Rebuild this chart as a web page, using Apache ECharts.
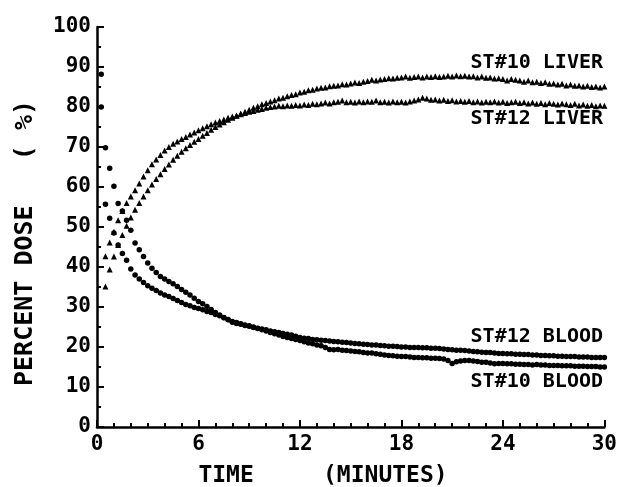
<!DOCTYPE html>
<html lang="en">
<head>
    <meta charset="UTF-8">
    <title>Percent dose vs time</title>
    <style>
        html, body { margin: 0; padding: 0; background: #fff; }
    </style>
</head>
<body>
    <div id="main" style="width: 620px;height:487px;"></div>
    <script src="https://cdn.jsdelivr.net/npm/echarts@6/dist/echarts.min.js"></script>
    <script type="text/javascript">
        var myChart = echarts.init(document.getElementById('main'));

        var SAMPLE_STEP = 0.25; // minutes between samples
        var N_SAMPLE = 120;

        // percent dose, one value per sample (t = 0.25 ... 30 min)
        var liver10 = [
            null, 35.1, 39.4, 42.6, 45.5, 48.0, 50.3, 52.4, 54.3, 56.0, 57.6, 59.2,
            60.6, 62.0, 63.2, 64.5, 65.6, 66.8, 67.8, 68.8, 69.7, 70.5, 71.3, 72.0,
            72.8, 73.5, 74.3, 75.0, 75.6, 76.2, 76.8, 77.3, 77.8, 78.4, 78.8, 79.3,
            79.8, 80.2, 80.7, 81.0, 81.4, 81.7, 82.1, 82.3, 82.7, 83.0, 83.2, 83.6,
            83.8, 84.2, 84.3, 84.6, 84.8, 84.9, 85.2, 85.3, 85.4, 85.7, 85.6, 85.9,
            86.1, 86.0, 86.3, 86.5, 86.8, 86.6, 86.9, 87.0, 87.2, 87.1, 87.3, 87.4,
            87.6, 87.3, 87.5, 87.6, 87.4, 87.6, 87.5, 87.7, 87.5, 87.6, 87.8, 87.6,
            87.9, 87.7, 87.8, 87.6, 87.7, 87.4, 87.6, 87.3, 87.4, 87.1, 87.2, 87.0,
            86.6, 87.0, 86.8, 86.6, 86.3, 86.6, 86.2, 86.3, 86.0, 86.2, 85.8, 85.9,
            85.6, 85.8, 85.4, 85.6, 85.3, 85.4, 85.1, 85.3, 85.0, 85.1, 84.9, 85.1
        ];
        var liver12 = [
            null, 42.7, 46.1, 48.8, 51.7, 54.0, 56.0, 57.6, 59.2, 60.9, 62.6, 64.2,
            65.7, 66.9, 68.0, 69.1, 70.0, 70.8, 71.4, 72.0, 72.5, 73.1, 73.6, 74.2,
            74.7, 75.2, 75.7, 76.1, 76.5, 76.9, 77.3, 77.6, 77.9, 78.2, 78.5, 78.8,
            79.0, 79.3, 79.5, 79.8, 80.0, 80.1, 80.3, 80.2, 80.4, 80.3, 80.5, 80.4,
            80.6, 80.5, 80.8, 80.7, 80.9, 81.1, 80.9, 81.2, 81.3, 81.6, 81.2, 81.3,
            81.1, 81.4, 81.2, 81.4, 81.3, 81.6, 81.2, 81.3, 81.1, 81.4, 81.2, 81.3,
            81.1, 81.4, 81.6, 81.9, 82.3, 82.1, 81.8, 81.9, 81.6, 81.8, 81.5, 81.7,
            81.4, 81.5, 81.3, 81.5, 81.2, 81.4, 81.1, 81.3, 81.2, 81.4, 81.1, 81.3,
            81.0, 81.2, 81.3, 81.0, 81.2, 80.9, 81.1, 80.8, 81.0, 80.7, 81.0, 80.8,
            80.6, 80.9, 80.7, 80.5, 80.8, 80.4, 80.6, 80.3, 80.5, 80.2, 80.4, 80.3
        ];
        var blood10 = [
            88.2, 69.8, 64.7, 60.2, 55.9, 54.0, 51.7, 49.2, 46.0, 44.3, 42.6, 41.0,
            39.7, 38.6, 37.6, 37.0, 36.4, 35.8, 35.1, 34.4, 33.7, 33.0, 32.2, 31.4,
            30.8, 30.1, 29.4, 28.6, 28.0, 27.4, 26.9, 26.4, 26.1, 25.8, 25.5, 25.3,
            25.0, 24.6, 24.3, 24.0, 23.6, 23.3, 23.0, 22.6, 22.4, 22.1, 21.9, 21.6,
            21.3, 21.0, 20.8, 20.5, 20.3, 19.9, 19.4, 19.3, 19.4, 19.2, 19.1, 19.0,
            18.9, 18.8, 18.6, 18.5, 18.5, 18.3, 18.2, 18.0, 17.9, 17.8, 17.7, 17.6,
            17.6, 17.5, 17.4, 17.4, 17.3, 17.3, 17.2, 17.2, 17.1, 17.0, 16.6, 15.9,
            16.3, 16.5, 16.6, 16.6, 16.5, 16.4, 16.2, 16.2, 16.0, 15.8, 15.9, 15.9,
            15.8, 15.8, 15.7, 15.7, 15.6, 15.6, 15.5, 15.6, 15.5, 15.5, 15.4, 15.4,
            15.4, 15.3, 15.3, 15.3, 15.2, 15.2, 15.2, 15.1, 15.1, 15.1, 15.0, 15.0
        ];
        var blood12 = [
            80.0, 55.7, 52.2, 48.5, 45.5, 43.4, 41.7, 39.5, 38.0, 37.0, 36.1, 35.3,
            34.7, 34.1, 33.5, 33.0, 32.6, 32.1, 31.6, 31.1, 30.6, 30.3, 29.9, 29.6,
            29.3, 28.9, 28.6, 28.1, 27.8, 27.3, 26.8, 26.2, 25.9, 25.7, 25.4, 25.2,
            24.9, 24.7, 24.5, 24.3, 24.0, 23.8, 23.6, 23.4, 23.2, 23.0, 22.7, 22.4,
            22.2, 22.1, 21.9, 21.8, 21.7, 21.6, 21.5, 21.4, 21.3, 21.2, 21.1, 21.0,
            20.9, 20.8, 20.7, 20.6, 20.5, 20.5, 20.4, 20.3, 20.2, 20.2, 20.1, 20.0,
            20.0, 19.9, 19.9, 19.9, 19.8, 19.8, 19.7, 19.7, 19.6, 19.5, 19.4, 19.3,
            19.2, 19.2, 19.1, 19.0, 18.9, 18.8, 18.7, 18.6, 18.6, 18.5, 18.4, 18.4,
            18.3, 18.3, 18.2, 18.2, 18.1, 18.1, 18.0, 18.0, 17.9, 17.9, 17.8, 17.8,
            17.7, 17.7, 17.6, 17.6, 17.6, 17.5, 17.5, 17.5, 17.4, 17.4, 17.4, 17.4
        ];

        var xTicks = [0, 6, 12, 18, 24, 30];
        var yTicks = [0, 10, 20, 30, 40, 50, 60, 70, 80, 90, 100];

        var FONT = 'DejaVu Sans Mono';

        var pairs = function (values) {
            var out = [];
            for (var i = 0; i < N_SAMPLE; i++) {
                if (values[i] == null) continue;
                out.push([SAMPLE_STEP * (i + 1), values[i]]);
            }
            return out;
        };

        var dotSeries = function (name, values, symbol, size) {
            return {
                type: 'scatter',
                name: name,
                symbol: symbol,
                symbolSize: size,
                itemStyle: { color: '#000', opacity: 1 },
                silent: true,
                animation: false,
                data: pairs(values)
            };
        };

        var curveLabel = function (text, y) {
            return {
                type: 'text',
                right: 17,
                top: y - 11,
                style: { text: text, font: 'bold 20px "' + FONT + '"', fill: '#000' }
            };
        };

        var option = {
            animation: false,
            grid: { left: 97, right: 13, top: 27, bottom: 60 },
            xAxis: {
                type: 'value',
                min: xTicks[0],
                max: xTicks[xTicks.length - 1],
                interval: 6,
                axisLine: { lineStyle: { color: '#000', width: 2.5 } },
                axisTick: { inside: true, length: 7, lineStyle: { color: '#000', width: 2 } },
                minorTick: { show: true, splitNumber: 6, length: 4, lineStyle: { color: '#000', width: 2 } },
                splitLine: { show: false },
                axisLabel: { color: '#000', fontFamily: FONT, fontWeight: 'bold', fontSize: 21, margin: 7 }
            },
            yAxis: {
                type: 'value',
                min: yTicks[0],
                max: yTicks[yTicks.length - 1],
                interval: 10,
                axisLine: { show: true, lineStyle: { color: '#000', width: 2.5 } },
                axisTick: { show: true, inside: true, length: 7, lineStyle: { color: '#000', width: 2 } },
                minorTick: { show: true, splitNumber: 2, length: 4, lineStyle: { color: '#000', width: 2 } },
                splitLine: { show: false },
                axisLabel: { color: '#000', fontFamily: FONT, fontWeight: 'bold', fontSize: 21, margin: 6 }
            },
            series: [
                dotSeries('ST#10 LIVER', liver10, 'triangle', 6),
                dotSeries('ST#12 LIVER', liver12, 'triangle', 6),
                dotSeries('ST#10 BLOOD', blood10, 'circle', 5.5),
                dotSeries('ST#12 BLOOD', blood12, 'circle', 5.5)
            ],
            graphic: [
                curveLabel('ST#10 LIVER', 64),
                curveLabel('ST#12 LIVER', 120),
                curveLabel('ST#12 BLOOD', 338),
                curveLabel('ST#10 BLOOD', 383),
                {
                    type: 'text',
                    x: 323,
                    y: 476,
                    style: {
                        text: 'TIME     (MINUTES)',
                        font: 'bold 23px "' + FONT + '"',
                        fill: '#000',
                        align: 'center',
                        verticalAlign: 'middle'
                    }
                },
                {
                    type: 'text',
                    x: 25,
                    y: 243,
                    rotation: Math.PI / 2,
                    style: {
                        text: 'PERCENT DOSE   ( %)',
                        font: 'bold 25px "' + FONT + '"',
                        fill: '#000',
                        align: 'center',
                        verticalAlign: 'middle'
                    }
                }
            ]
        };

        myChart.setOption(option);
    </script>
</body>
</html>
